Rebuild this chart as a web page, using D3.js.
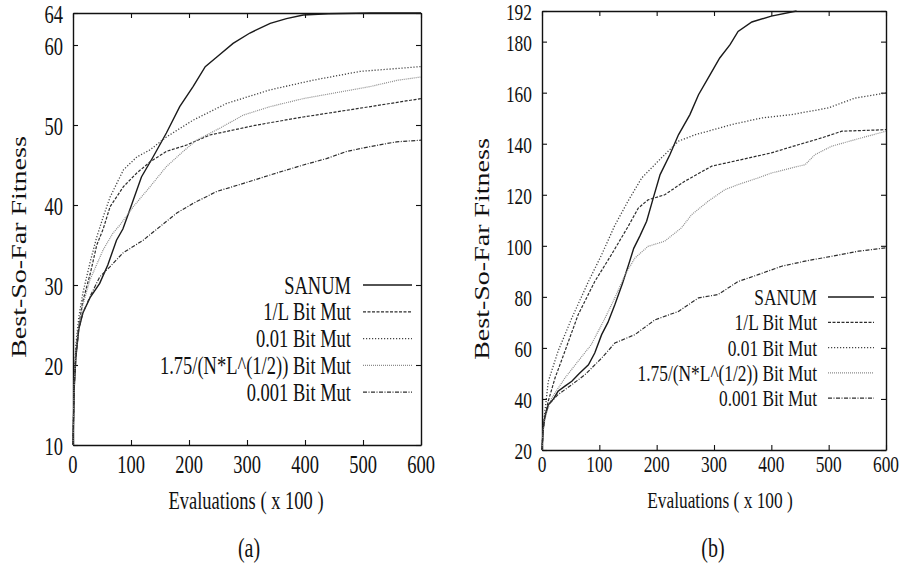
<!DOCTYPE html>
<html>
<head>
<meta charset="utf-8">
<script src="https://cdn.jsdelivr.net/npm/d3@7/dist/d3.min.js"></script>
<style>
  body { margin: 0; background: #fff; }
</style>
</head>
<body>
<svg id="chart" width="907" height="571"></svg>
<script>
// evaluations (x 100) on x, best-so-far fitness on y
const xTicks = [0, 100, 200, 300, 400, 500, 600]
const yTicksA = [10, 20, 30, 40, 50, 60, 64]
const yTicksB = [20, 40, 60, 80, 100, 120, 140, 160, 180, 192]
const seriesNames = ['SANUM', '1/L Bit Mut', '0.01 Bit Mut', '1.75/(N*L^(1/2)) Bit Mut', '0.001 Bit Mut']

// panel (a)
const sanumA = [[0,10],[2,17],[5,21],[10,24.5],[17,26.5],[30,28.5],[46,30.2],[60,32.5],[75,35.6],[86,37],[98,39.4],[118,43.5],[138,46],[161,49],[184,52.3],[207,54.8],[228,57.3],[248,58.5],[276,60.2],[305,61.5],[340,62.7],[368,63.3],[397,63.75],[440,63.9],[512,64],[600,64]]
const oneOverLA = [[0,10],[2,18],[5,22],[10,25],[17,28],[30,31.5],[41,35],[52,37],[64,39.8],[87,42.3],[110,44],[133,45.4],[161,46.7],[196,47.5],[236,48.75],[317,50],[397,51],[495,52.1],[600,53.3]]
const rate001A = [[0,10],[2,18],[5,22.5],[10,26],[17,29],[30,33],[41,36],[52,38.5],[64,41],[87,44.4],[110,46],[133,46.9],[161,48.5],[207,50.6],[265,52.7],[340,54.4],[414,55.6],[495,56.7],[600,57.3]]
const sqrtRuleA = [[0,10],[2,17.5],[5,21.5],[10,25],[17,27.5],[29,30.6],[52,34.4],[69,36.5],[81,37.5],[104,39.8],[133,42.3],[161,44.8],[190,46.7],[213,48.1],[253,49.6],[294,51.25],[340,52.3],[397,53.3],[512,54.8],[560,55.6],[600,56]]
const rate0001A = [[0,10],[2,17],[5,21],[10,24.5],[17,26.5],[29,28.5],[46,31],[64,32.3],[86,34],[121,35.6],[150,37.3],[179,39],[207,40.2],[248,41.7],[294,42.7],[351,44],[397,45],[437,45.8],[472,46.7],[512,47.3],[558,47.9],[600,48.1]]

// panel (b)
const sanumB = [[0,20],[2,28.6],[5,33],[11,37.7],[20,40],[28,43],[40,45],[52,46.9],[65,50],[81,53.4],[92,58],[104,65.2],[115,70],[127,76.9],[140,85],[151,92.6],[160,99],[171,104],[182.5,109.6],[194,118.7],[206,127.9],[223,135.7],[238,143.5],[258,151.4],[273,159.2],[293,167],[310,173.6],[328,178.8],[342,184],[366,187.7],[400,190],[444,192]]
const oneOverLB = [[0,20],[2,28],[5,33],[11,39.2],[22.7,48.2],[40,58.7],[63,73],[92,86],[121,96.5],[150,107.5],[168,114.8],[185,118],[214,120],[249,125.3],[296,131.2],[348,133.8],[400,136.4],[447,139.6],[488,142.3],[523,144.9],[600,145.5]]
const rate001B = [[0,20],[2,29],[5,35],[11,46.9],[28,58.7],[52,71.7],[81,86],[104,96.5],[127,108],[150,117.5],[174,126.6],[208,134.4],[238,141],[267,143.5],[331,147.5],[383,150.1],[435,151.4],[499,154],[546,157.9],[600,159.9]]
const sqrtRuleB = [[0,20],[2,27],[5,32],[10,36],[17,40.4],[40,48.2],[63,54.8],[86,61.3],[110,71.7],[127,79.6],[145,88.7],[162,95.2],[185,99.8],[214,101.8],[243,107],[261,112.2],[290,117.5],[319,122],[342,124],[377,126.6],[400,128.5],[435,130.5],[459,131.8],[476,135.7],[505,139],[546,141.6],[600,144.9]]
const rate0001B = [[0,20],[2,28],[5,33],[11,37.7],[28,41.7],[52,45.6],[75,49.5],[104,56],[127,61.9],[162,65.2],[197,71],[238,74.3],[273,79.6],[307,80.9],[342,86],[377,88.7],[418,92],[459,94],[505,95.9],[552,97.9],[600,99.2]]

// line styles, same order as seriesNames
const lineStyles = [
  { color: '#1a1a1a', dash: null, width: 1.4 },
  { color: '#2e2e2e', dash: '3,1.5', width: 1.2 },
  { color: '#444', dash: '1.2,1.8', width: 1.3 },
  { color: '#8c8c8c', dash: '1,1', width: 1.2 },
  { color: '#2e2e2e', dash: '4,1.5,1,1.5', width: 1.2 }
]

const FONT = '"Liberation Serif", "Times New Roman", Times, serif'
const SX = 0.74 // the whole figure is squeezed horizontally

const panels = [
  {
    left: 73, right: 421, top: 13, bottom: 445,
    yDomain: [10, 64], yTicks: yTicksA,
    series: [sanumA, oneOverLA, rate001A, sqrtRuleA, rate0001A],
    font: 25, yLabelX: 19, yLabelY: 247, xLabelX: 246, capX: 249, cap: '(a)',
    legRight: 351, legTop: 285, legStep: 26.8, legLine: [363, 412]
  },
  {
    left: 542, right: 886, top: 11, bottom: 450,
    yDomain: [20, 192], yTicks: yTicksB,
    series: [sanumB, oneOverLB, rate001B, sqrtRuleB, rate0001B],
    font: 23.5, yLabelX: 482, yLabelY: 249, xLabelX: 720, capX: 713, cap: '(b)',
    legRight: 817, legTop: 297, legStep: 25.3, legLine: [828, 874]
  }
]

const svg = d3.select('#chart')

function squeezed(g, x, y, str, size, anchor) {
  return g.append('text')
    .attr('transform', `translate(${x},${y}) scale(${SX},1)`)
    .attr('text-anchor', anchor)
    .attr('dominant-baseline', 'central')
    .attr('font-family', FONT)
    .attr('font-size', size)
    .attr('fill', '#111')
    .text(str)
}

panels.forEach(function (p) {
  let g = svg.append('g')
  let x = d3.scaleLinear().domain([0, 600]).range([p.left, p.right])
  let y = d3.scaleLinear().domain(p.yDomain).range([p.bottom, p.top])

  // frame + inward ticks on all four sides
  let axes = [
    [d3.axisBottom(x).tickValues(xTicks), `translate(0,${p.bottom})`],
    [d3.axisTop(x).tickValues(xTicks), `translate(0,${p.top})`],
    [d3.axisLeft(y).tickValues(p.yTicks), `translate(${p.left},0)`],
    [d3.axisRight(y).tickValues(p.yTicks), `translate(${p.right},0)`]
  ]
  axes.forEach(function ([ax, tr]) {
    let a = g.append('g').attr('transform', tr)
      .call(ax.tickSizeInner(-5).tickSizeOuter(0).tickFormat(''))
    a.select('.domain').attr('stroke', '#111').attr('stroke-width', 1.4)
    a.selectAll('.tick line').attr('stroke', '#111').attr('stroke-width', 1.1)
  })

  // tick labels
  xTicks.forEach(t => squeezed(g, x(t), 464, String(t), p.font, 'middle'))
  p.yTicks.forEach(t => squeezed(g, p.left - 10, y(t) + 1, String(t), p.font, 'end'))

  // axis titles
  g.append('text')
    .attr('transform', `translate(${p.yLabelX},${p.yLabelY}) scale(${SX},1) rotate(-90)`)
    .attr('text-anchor', 'middle')
    .attr('dominant-baseline', 'central')
    .attr('font-family', FONT)
    .attr('font-size', 28)
    .attr('fill', '#111')
    .text('Best-So-Far Fitness')
  squeezed(g, p.xLabelX, 500, 'Evaluations ( x 100 )', p.font, 'middle')
  squeezed(g, p.capX, 548, p.cap, 27, 'middle')

  // curves
  let line = d3.line().x(d => x(d[0])).y(d => y(d[1]))
  g.append('g')
    .selectAll('path')
    .data(p.series)
    .join('path')
    .attr('d', line)
    .attr('fill', 'none')
    .attr('stroke', (d, i) => lineStyles[i].color)
    .attr('stroke-width', (d, i) => lineStyles[i].width)
    .attr('stroke-dasharray', (d, i) => lineStyles[i].dash)

  // legend
  seriesNames.forEach(function (name, i) {
    let ly = p.legTop + i * p.legStep
    squeezed(g, p.legRight, ly, name, p.font, 'end')
    g.append('line')
      .attr('x1', p.legLine[0]).attr('x2', p.legLine[1])
      .attr('y1', ly).attr('y2', ly)
      .attr('stroke', lineStyles[i].color)
      .attr('stroke-width', lineStyles[i].width)
      .attr('stroke-dasharray', lineStyles[i].dash)
  })
})
</script>
</body>
</html>
